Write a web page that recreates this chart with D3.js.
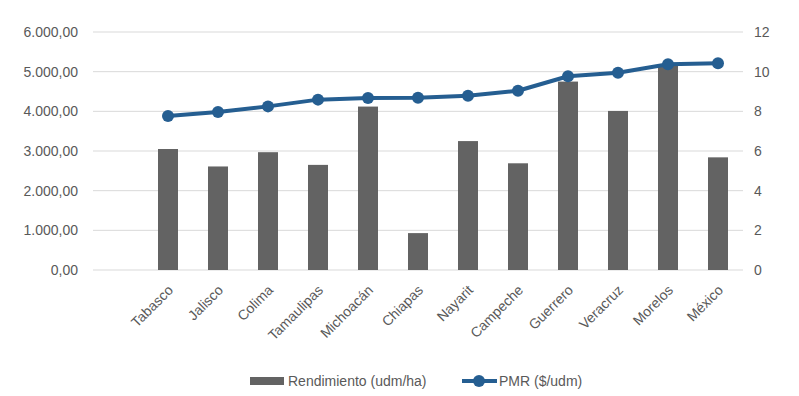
<!DOCTYPE html>
<html>
<head>
<meta charset="utf-8">
<script src="https://cdn.jsdelivr.net/npm/d3@7"></script>
<style>
  body { margin: 0; background: #fff; }
  text { font-family: "Liberation Sans", Arial, sans-serif; fill: #595959; }
</style>
</head>
<body>
<svg id="chart" width="799" height="396"></svg>
<script>
// data
var estados = ["Tabasco", "Jalisco", "Colima", "Tamaulipas", "Michoacán", "Chiapas",
               "Nayarit", "Campeche", "Guerrero", "Veracruz", "Morelos", "México"];
var rendimiento = [3050, 2610, 2970, 2650, 4120, 930, 3250, 2690, 4750, 4010, 5180, 2840];
var pmr = [7.77, 7.97, 8.25, 8.59, 8.67, 8.69, 8.79, 9.04, 9.77, 9.95, 10.37, 10.42];
var leftTicks = [0, 1000, 2000, 3000, 4000, 5000, 6000];
var rightTicks = [0, 2, 4, 6, 8, 10, 12];

var svg = d3.select("#chart");
var mLeft = 93, mRight = 743, mTop = 32, mBottom = 270;

// the original has an empty first category, hence the blank slot
var x = d3.scaleBand().domain([""].concat(estados)).range([mLeft, mRight]).paddingInner(0.6).paddingOuter(0.3);
var yL = d3.scaleLinear().domain([0, 6000]).range([mBottom, mTop]);
var yR = d3.scaleLinear().domain([0, 12]).range([mBottom, mTop]);

var fmt = function (v) {
    return d3.format(",.2f")(v).replace(/,/g, "#").replace(".", ",").replace(/#/g, ".");
};

// gridlines
svg.append("g").selectAll("line").data(leftTicks).enter().append("line")
    .attr("x1", mLeft).attr("x2", mRight)
    .attr("y1", function (d) { return yL(d); })
    .attr("y2", function (d) { return yL(d); })
    .attr("stroke", "#d9d9d9").attr("stroke-width", 1);

// left axis
var axL = svg.append("g").attr("transform", "translate(" + (mLeft - 15) + ",0)")
    .call(d3.axisLeft(yL).tickValues(leftTicks).tickFormat(fmt).tickSize(0).tickPadding(0));
axL.select(".domain").remove();
axL.selectAll("text").style("font-size", "14px").attr("fill", "#595959")
    .style("font-family", "'Liberation Sans', Arial, sans-serif");

// right axis
var axR = svg.append("g").attr("transform", "translate(" + (mRight + 11) + ",0)")
    .call(d3.axisRight(yR).tickValues(rightTicks).tickSize(0).tickPadding(0));
axR.select(".domain").remove();
axR.selectAll("text").style("font-size", "14px").attr("fill", "#595959")
    .style("font-family", "'Liberation Sans', Arial, sans-serif");

// bars
var bw = 20;
svg.append("g").selectAll("rect").data(estados).enter().append("rect")
    .attr("x", function (d) { return x(d) + x.bandwidth() / 2 - bw / 2; })
    .attr("y", function (d, i) { return yL(rendimiento[i]); })
    .attr("width", bw)
    .attr("height", function (d, i) { return mBottom - yL(rendimiento[i]); })
    .attr("fill", "#636363");

// x labels
svg.append("g").selectAll("text").data(estados).enter().append("text")
    .attr("transform", function (d) {
        return "translate(" + (x(d) + x.bandwidth() / 2 + 6) + "," + (mBottom + 21) + ") rotate(-45)";
    })
    .attr("text-anchor", "end")
    .style("font-size", "14px")
    .text(function (d) { return d; });

// line
var line = d3.line()
    .x(function (d, i) { return x(estados[i]) + x.bandwidth() / 2; })
    .y(function (d) { return yR(d); });
svg.append("path").datum(pmr)
    .attr("d", line)
    .attr("fill", "none")
    .attr("stroke", "#255e91")
    .attr("stroke-width", 4)
    .attr("stroke-linejoin", "round");
svg.append("g").selectAll("circle").data(pmr).enter().append("circle")
    .attr("cx", function (d, i) { return x(estados[i]) + x.bandwidth() / 2; })
    .attr("cy", function (d) { return yR(d); })
    .attr("r", 6)
    .attr("fill", "#255e91");

// legend
var lg = svg.append("g").attr("transform", "translate(0,381)");
lg.append("rect").attr("x", 250).attr("y", -4).attr("width", 34).attr("height", 8).attr("fill", "#636363");
lg.append("text").attr("x", 288).attr("y", 5).style("font-size", "14px").text("Rendimiento (udm/ha)");
lg.append("line").attr("x1", 462).attr("x2", 497).attr("y1", 0).attr("y2", 0)
    .attr("stroke", "#255e91").attr("stroke-width", 4);
lg.append("circle").attr("cx", 479).attr("cy", 0).attr("r", 6).attr("fill", "#255e91");
lg.append("text").attr("x", 499).attr("y", 5).style("font-size", "14px").text("PMR ($/udm)");
</script>
</body>
</html>
